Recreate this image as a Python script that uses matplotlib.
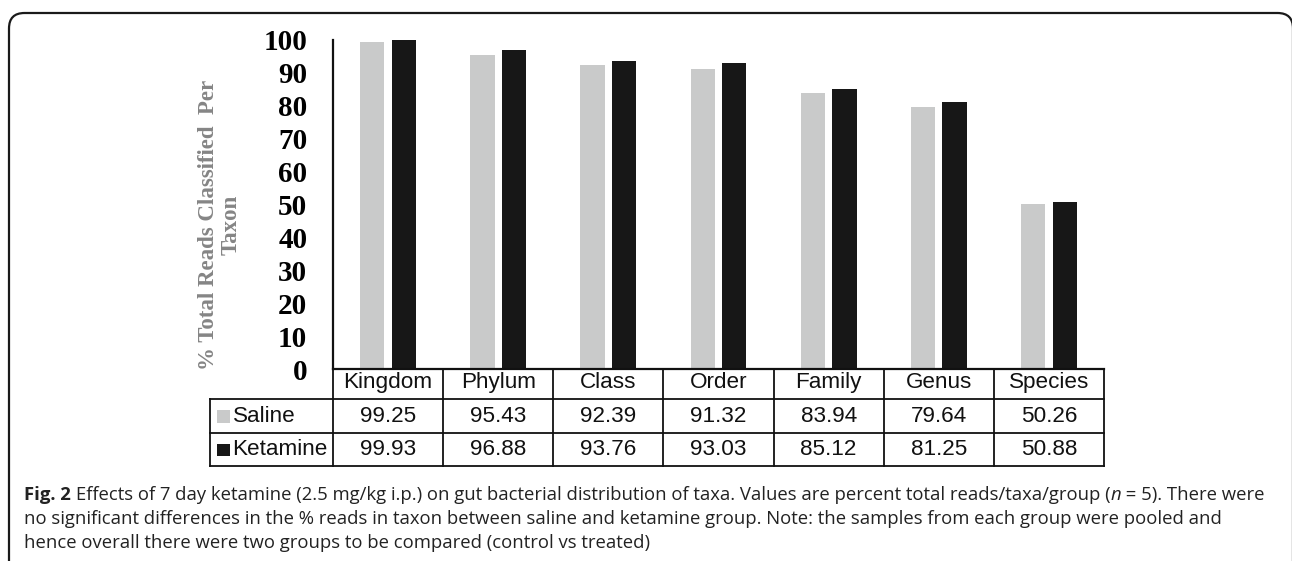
import matplotlib
matplotlib.use("Agg")
import matplotlib.pyplot as plt
from matplotlib.patches import Rectangle, FancyBboxPatch
import numpy as np

categories = ["Kingdom", "Phylum", "Class", "Order", "Family", "Genus", "Species"]
saline = [99.25, 95.43, 92.39, 91.32, 83.94, 79.64, 50.26]
ketamine = [99.93, 96.88, 93.76, 93.03, 85.12, 81.25, 50.88]
series_names = ["Saline", "Ketamine"]
series_colors = ["#C9CACA", "#171717"]
yticks = list(range(0, 101, 10))

caption_bold = "Fig. 2"
caption_lines = [
    "Effects of 7 day ketamine (2.5 mg/kg i.p.) on gut bacterial distribution of taxa. Values are percent total reads/taxa/group (",
    "no significant differences in the % reads in taxon between saline and ketamine group. Note: the samples from each group were pooled and",
    "hence overall there were two groups to be compared (control vs treated)",
]

W, H = 1292, 561
fig = plt.figure(figsize=(W / 100, H / 100), dpi=100)
fig.patch.set_facecolor("white")

def fx(px):
    return px / W

def fy(py):
    return 1 - py / H

# outer rounded frame
frame = FancyBboxPatch((fx(9), fy(640)), fx(1293) - fx(9), fy(13) - fy(640),
                       boxstyle="round,pad=0,rounding_size=0.012",
                       transform=fig.transFigure, fill=False,
                       edgecolor="#1a1a1a", linewidth=1.6, mutation_aspect=W / H)
fig.patches.append(frame)

ax_l, ax_r, ax_t, ax_b = 333, 1104, 40, 369
ax = fig.add_axes([fx(ax_l), fy(ax_b), fx(ax_r) - fx(ax_l), fy(ax_t) - fy(ax_b)])

x = np.arange(len(categories))
bw = 0.22
off = 0.143
ax.bar(x - off, saline, width=bw, color=series_colors[0], zorder=2)
ax.bar(x + off, ketamine, width=bw, color=series_colors[1], zorder=2)

ax.set_xlim(-0.5, len(categories) - 0.5)
ax.set_ylim(0, 100)
ax.set_yticks(yticks)
ax.set_yticklabels([str(t) for t in yticks], fontfamily="Liberation Serif",
                   fontweight="bold", fontsize=21)
ax.tick_params(axis="y", length=0, pad=18.5)
ax.set_xticks([])
for s in ["top", "right"]:
    ax.spines[s].set_visible(False)
ax.spines["left"].set_linewidth(1.6)
ax.spines["bottom"].set_linewidth(1.6)
ax.spines["left"].set_color("#111111")
ax.spines["bottom"].set_color("#111111")

# y label
fig.text(fx(220), fy(225), "% Total Reads Classified  Per\nTaxon", rotation=90,
         ha="center", va="center", multialignment="center",
         fontfamily="Liberation Serif", fontweight="bold", fontsize=16.5,
         color="#858585", linespacing=1.1)

# data table below the axes
trans = ax.get_xaxis_transform()
hpx = ax_b - ax_t
def ay(py):
    return (ax_b - py) / hpx

row_edges = [ay(369), ay(399), ay(433), ay(466)]
colw_px = (ax_r - ax_l) / len(categories)
def dx(px):
    return -0.5 + (px - ax_l) / colw_px

lab_left = dx(210)
lw = 1.3
lc = "#111111"
n = len(categories)
# horizontal lines
ax.plot([lab_left, n - 0.5], [row_edges[1]] * 2, transform=trans, clip_on=False, color=lc, lw=lw)
ax.plot([lab_left, n - 0.5], [row_edges[2]] * 2, transform=trans, clip_on=False, color=lc, lw=lw)
ax.plot([lab_left, n - 0.5], [row_edges[3]] * 2, transform=trans, clip_on=False, color=lc, lw=lw)
# vertical lines
for i in range(n + 1):
    ax.plot([i - 0.5] * 2, [row_edges[0], row_edges[3]], transform=trans, clip_on=False, color=lc, lw=lw)
ax.plot([lab_left] * 2, [row_edges[1], row_edges[3]], transform=trans, clip_on=False, color=lc, lw=lw)

tfont = dict(fontfamily="Liberation Sans", fontsize=16.2, color="#111111")
hdr_mid = (row_edges[0] + row_edges[1]) / 2 + 0.004
for i, c in enumerate(categories):
    ax.text(i, hdr_mid, c, transform=trans, ha="center", va="center", **tfont)
for r, (vals, name, col) in enumerate(zip([saline, ketamine], series_names, series_colors)):
    mid = (row_edges[r + 1] + row_edges[r + 2]) / 2
    for i, v in enumerate(vals):
        ax.text(i, mid, f"{v:.2f}", transform=trans, ha="center", va="center", **tfont)
    sq_h = 12.5 / hpx
    ax.add_patch(Rectangle((dx(217.5), mid - sq_h / 2 - 0.002), 12.5 / colw_px, sq_h,
                           transform=trans, clip_on=False, color=col, lw=0))
    ax.text(dx(232.5), mid, name, transform=trans, ha="left", va="center", **tfont)

# caption
cap_font = dict(fontfamily="Open Sans", fontsize=13.3, color="#222222")
bold = fig.text(fx(24), fy(500), caption_bold, ha="left", va="baseline",
                fontweight="bold", **cap_font)
fig.canvas.draw()
r = fig.canvas.get_renderer()
bb = bold.get_window_extent(r)
x1 = bb.x1 + 5
t1 = fig.text(x1 / W, fy(500), caption_lines[0], ha="left", va="baseline", **cap_font)
fig.canvas.draw()
bb = t1.get_window_extent(r)
t2 = fig.text(bb.x1 / W, fy(500), "n", ha="left", va="baseline", style="italic", **cap_font)
fig.canvas.draw()
bb = t2.get_window_extent(r)
fig.text(bb.x1 / W, fy(500), " = 5). There were", ha="left", va="baseline", **cap_font)
fig.text(fx(24), fy(524), caption_lines[1], ha="left", va="baseline", **cap_font)
fig.text(fx(24), fy(548), caption_lines[2], ha="left", va="baseline", **cap_font)

fig.savefig("out.png", dpi=100, facecolor="white")
